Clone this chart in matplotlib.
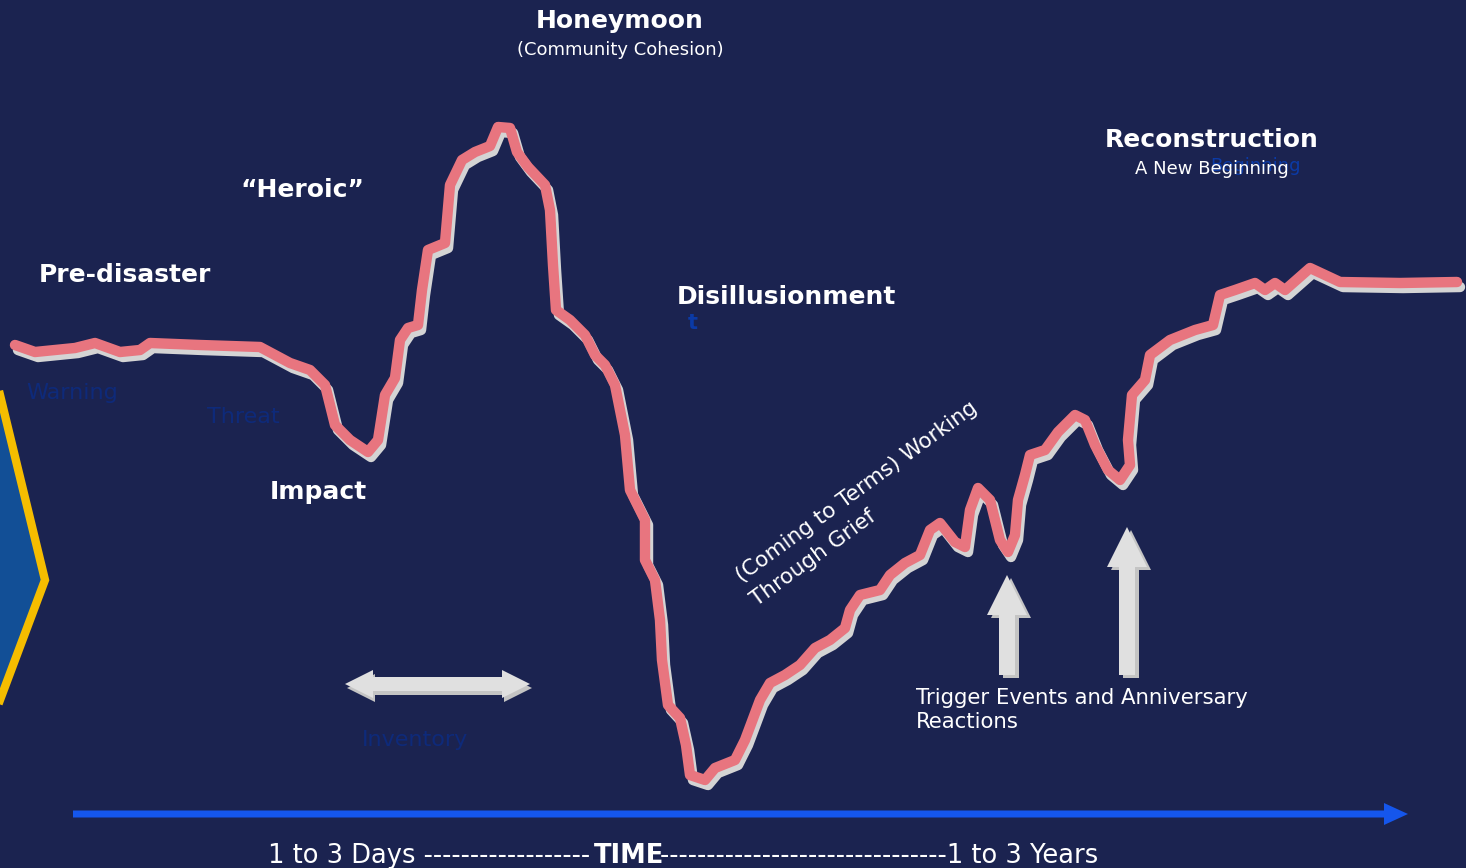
import numpy as np
import matplotlib.pyplot as plt
from matplotlib.patches import Polygon, FancyArrow

# curve of community mood over time (x = time position, y = level, screen-style, down is worse)
curve_x = [15, 35, 55, 75, 95, 120, 140, 150, 200, 260, 290, 310, 325, 335, 350, 368, 378, 385,
           395, 400, 408, 418, 422, 428, 445, 450, 462, 475, 490, 498, 510, 517, 528, 545, 550,
           553, 556, 570, 585, 595, 605, 615, 625, 630, 645, 645, 655, 660, 662, 668, 680, 686,
           690, 705, 715, 735, 745, 760, 770, 785, 800, 815, 830, 845, 850, 860, 880, 890, 905,
           920, 930, 940, 955, 965, 970, 978, 990, 1000, 1008, 1015, 1018, 1025, 1030, 1045,
           1058, 1075, 1085, 1095, 1108, 1120, 1130, 1128, 1132, 1145, 1150, 1170, 1195, 1213,
           1220, 1235, 1255, 1265, 1275, 1285, 1310, 1340, 1400, 1457]
curve_y = [345, 352, 350, 348, 343, 352, 350, 343, 345, 347, 363, 370, 385, 425, 440, 452, 440, 395,
           378, 340, 328, 325, 290, 250, 243, 185, 160, 152, 146, 127, 128, 152, 167, 185, 210,
           265, 310, 320, 335, 355, 365, 385, 435, 490, 520, 560, 580, 620, 660, 705, 718, 745,
           775, 780, 768, 760, 740, 700, 683, 675, 665, 648, 640, 628, 610, 595, 590, 575, 563,
           555, 530, 523, 542, 547, 510, 488, 500, 540, 552, 535, 500, 475, 455, 450,
           432, 415, 420, 445, 470, 480, 465, 440, 395, 380, 355, 340, 330, 325,
           295, 290, 283, 290, 283, 290, 268, 282, 283, 282]

bg = '#1b2350'
pink = '#e8757f'
shade = '#d4d4d4'
faint = '#0e2a7a'

fig = plt.figure(figsize=(14.66, 8.68), dpi=100)
fig.patch.set_facecolor(bg)
ax = fig.add_axes([0, 0, 1, 1])
ax.set_facecolor(bg)
ax.set_xlim(0, 1466)
ax.set_ylim(868, 0)
ax.axis('off')

# chevron at left edge
ax.add_patch(Polygon([(-20, 380), (0, 395), (45, 580), (0, 700), (-20, 720)],
                     closed=True, facecolor='#124f96', edgecolor='none'))
ax.plot([0, 45, 0], [395, 580, 700], color='#f5bd00', lw=6, solid_joinstyle='miter')

# shadow then curve
cx = np.array(curve_x)
cy = np.array(curve_y)
ax.plot(cx + 3, cy + 5, color=shade, lw=7.5, solid_capstyle='round', solid_joinstyle='round')
ax.plot(cx, cy, color=pink, lw=7.5, solid_capstyle='round', solid_joinstyle='round')

# faint labels
ax.text(72, 393, 'Warning', color=faint, fontsize=16, ha='center', va='center')
ax.text(243, 417, 'Threat', color=faint, fontsize=16, ha='center', va='center')
ax.text(415, 740, 'Inventory', color=faint, fontsize=16, ha='center', va='center')
ax.text(693, 323, 't', color='#0b3aa6', fontsize=15, ha='center', va='center', fontweight='bold')

# phase labels
bold = dict(color='white', fontsize=18, fontweight='bold', ha='center', va='center')
ax.text(620, 21, 'Honeymoon', **bold)
ax.text(620, 50, '(Community Cohesion)', color='white', fontsize=13, ha='center', va='center')
ax.text(302, 190, '\u201cHeroic\u201d', **bold)
ax.text(125, 275, 'Pre-disaster', **bold)
ax.text(786, 297, 'Disillusionment', **bold)
ax.text(318, 492, 'Impact', **bold)
ax.text(1212, 140, 'Reconstruction', **bold)
ax.text(1255, 166, 'Beginning', color='#0b3aa6', fontsize=13, ha='center', va='center')
ax.text(1212, 169, 'A New Beginning', color='white', fontsize=13, ha='center', va='center')

rot = dict(color='white', fontsize=15.5, ha='left', va='baseline', rotation=36,
           rotation_mode='anchor')
ax.text(742, 583, '(Coming to Terms) Working', **rot)
ax.text(757, 607, 'Through Grief', **rot)
ax.text(916, 710, 'Trigger Events and Anniversary\nReactions', color='white', fontsize=15.3,
        ha='left', va='center', linespacing=1.3)

# double-headed arrow (left tip, right tip, centre y)
dbl_left, dbl_right, dbl_y = 345, 530, 684
shaft, headw, headl = 7, 14, 28
for sx, sy, c in [(2, 4, '#c4c4c4'), (0, 0, '#e0e0e0')]:
    pts = [(dbl_left, dbl_y), (dbl_left + headl, dbl_y - headw), (dbl_left + headl, dbl_y - shaft),
           (dbl_right - headl, dbl_y - shaft), (dbl_right - headl, dbl_y - headw),
           (dbl_right, dbl_y), (dbl_right - headl, dbl_y + headw), (dbl_right - headl, dbl_y + shaft),
           (dbl_left + headl, dbl_y + shaft), (dbl_left + headl, dbl_y + headw)]
    ax.add_patch(Polygon([(x + sx, y + sy) for x, y in pts], closed=True, color=c, ec='none'))

# trigger arrows (x, base y, tip y)
up_x = [1007, 1127]
up_base = [675, 675]
up_tip = [575, 527]
for x0, b, t in zip(up_x, up_base, up_tip):
    for sx, sy, c in [(4, 3, '#c4c4c4'), (0, 0, '#e0e0e0')]:
        ax.add_patch(FancyArrow(x0 + sx, b + sy, 0, t - b, width=16, head_width=40,
                                head_length=40, length_includes_head=True,
                                color=c, ec='none'))

# time axis arrow
ax.add_patch(FancyArrow(73, 814, 1335, 0, width=7, head_width=22, head_length=24,
                        length_includes_head=True, color='#1556ec', ec='none'))

tk = dict(color='white', fontsize=18.5, va='center', ha='left')
ax.text(268, 856, '1 to 3 Days ------------------', **tk)
ax.text(594, 856, 'TIME', fontweight='bold', **tk)
ax.text(660, 856, '-------------------------------1 to 3 Years', **tk)

fig.savefig('out.png', dpi=100, facecolor=bg)
